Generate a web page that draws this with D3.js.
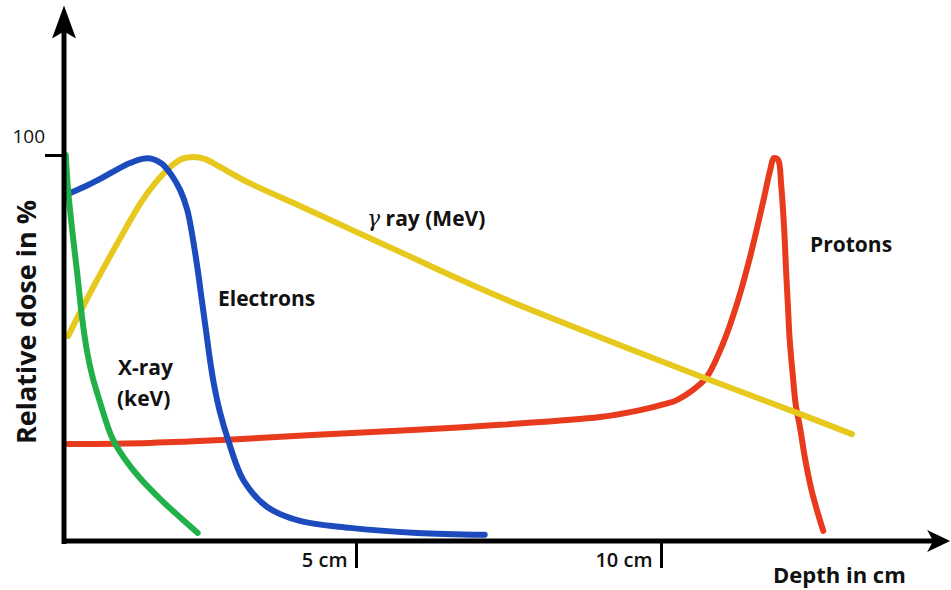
<!DOCTYPE html>
<html>
<head>
<meta charset="utf-8">
<script src="https://cdn.jsdelivr.net/npm/d3@7"></script>
<style>
  html, body { margin: 0; padding: 0; background: #ffffff; }
  svg { display: block; }
  text { font-family: "Open Sans", "DejaVu Sans", sans-serif; fill: #111; }
</style>
</head>
<body>
<svg id="chart" width="951" height="590"></svg>
<script>
// ---- data (depth in cm, relative dose in %) ----
const xrayDepth = [0.03, 0.07, 0.14, 0.22, 0.31, 0.39, 0.48, 0.62, 0.82, 1.03, 1.30, 1.68, 2.29];
const xrayDose  = [100, 90.9, 80.6, 70.2, 57.8, 49.5, 43.0, 35.8, 26.9, 21.5, 16.3, 10.4, 2.1];

const electronDepth = [0.07, 0.34, 0.62, 0.89, 1.13, 1.34, 1.51, 1.68, 1.85, 1.99, 2.11, 2.21, 2.29, 2.36, 2.43, 2.50, 2.57, 2.67, 2.81, 3.07, 3.48, 4.04, 4.90, 6.00, 7.11];
const electronDose  = [89.9, 91.7, 93.8, 96.1, 97.9, 99.0, 99.0, 97.7, 94.6, 90.9, 85.8, 78.0, 70.2, 62.4, 54.7, 46.9, 40.4, 33.4, 26.2, 15.8, 8.8, 5.2, 3.4, 2.1, 1.6];

const gammaDepth = [0.07, 0.27, 0.53, 0.79, 1.05, 1.30, 1.56, 1.82, 2.02, 2.21, 2.41, 2.67, 3.18, 4.04, 4.90, 5.72, 6.54, 7.36, 9.00, 10.64, 12.23, 13.13];
const gammaDose  = [53.1, 59.1, 66.6, 73.8, 80.8, 87.3, 92.7, 96.9, 99.0, 99.5, 99.0, 96.9, 92.7, 86.8, 80.8, 74.9, 68.9, 63.2, 52.8, 42.7, 33.2, 27.7];

const protonDepth = [0.07, 1.47, 2.79, 4.33, 6.00, 7.36, 9.00, 9.66, 10.07, 10.26, 10.52, 10.75, 11.02, 11.25, 11.46, 11.67, 11.79, 11.85, 11.92, 11.97, 12.02, 12.05, 12.08, 12.11, 12.16, 12.21, 12.28, 12.36, 12.46, 12.56, 12.66];
const protonDose  = [25.1, 25.4, 26.2, 27.5, 28.8, 30.1, 32.1, 33.9, 35.5, 36.5, 39.1, 42.5, 51.3, 61.7, 73.6, 87.6, 96.1, 99.2, 98.7, 92.2, 80.6, 70.2, 61.1, 52.1, 43.0, 35.2, 29.3, 21.5, 13.7, 7.8, 2.6];

const xTickValues = [5, 10];
const xTickLabels = ["5 cm", "10 cm"];
const yTickValues = [100];
const yTickLabels = ["100"];

// ---- drawing ----
const svg = d3.select("#chart");
svg.append("rect").attr("width", 951).attr("height", 590).attr("fill", "#fff");

const x = d3.scaleLinear().domain([0, 5, 10]).range([64, 356, 661]);
const y = d3.scaleLinear().domain([0, 100]).range([541, 155]);

const xAxisEnd = 14.74;   // cm, arrow tip
const yAxisEnd = 138.7;   // %, arrow tip

const colors = { "X-ray": "#22b04a", "Electrons": "#1c4bbd", "gamma": "#e6c91c", "Protons": "#e83a1c" };

const line = d3.line()
  .x(d => x(d[0])).y(d => y(d[1]))
  .curve(d3.curveCatmullRom.alpha(0.5));

const zip = (a, b) => a.map((v, i) => [v, b[i]]);
const series = [
  { name: "X-ray", pts: zip(xrayDepth, xrayDose) },
  { name: "Electrons", pts: zip(electronDepth, electronDose) },
  { name: "gamma", pts: zip(gammaDepth, gammaDose) },
  { name: "Protons", pts: zip(protonDepth, protonDose) }
];

const order = ["Protons", "gamma", "Electrons", "X-ray"];
svg.append("g").selectAll("path")
  .data(order.map(n => series.find(s => s.name === n)))
  .join("path")
  .attr("d", d => line(d.pts))
  .attr("fill", "none")
  .attr("stroke", d => colors[d.name])
  .attr("stroke-width", 6)
  .attr("stroke-linecap", "round")
  .attr("stroke-linejoin", "round");

// axes lines
const x0 = x(0), y0 = y(0);
const xTip = x(xAxisEnd), yTip = y(yAxisEnd);
svg.append("line").attr("x1", x0 - 2).attr("x2", xTip - 10).attr("y1", y0).attr("y2", y0)
  .attr("stroke", "#000").attr("stroke-width", 5);
svg.append("line").attr("x1", x0).attr("x2", x0).attr("y1", y0 + 3).attr("y2", yTip + 14)
  .attr("stroke", "#000").attr("stroke-width", 5);
// arrowheads
svg.append("path")
  .attr("d", `M${xTip},${y0} L${xTip - 23},${y0 - 11} L${xTip - 17},${y0} L${xTip - 23},${y0 + 11} Z`)
  .attr("fill", "#000");
svg.append("path")
  .attr("d", `M${x0},${yTip} L${x0 - 12},${yTip + 33} L${x0},${yTip + 26} L${x0 + 12},${yTip + 33} Z`)
  .attr("fill", "#000");

// x axis ticks
const xAxis = d3.axisBottom(x).tickValues(xTickValues).tickSize(27)
  .tickFormat((d, i) => xTickLabels[i]);
const gx = svg.append("g").attr("transform", `translate(0,${y0})`).call(xAxis);
gx.select(".domain").remove();
gx.selectAll(".tick line").attr("stroke", "#000").attr("stroke-width", 3);
gx.selectAll(".tick text")
  .attr("text-anchor", "end").attr("x", -9).attr("y", 26).attr("dy", null)
  .style("font-family", "'Open Sans', sans-serif")
  .style("font-size", "20px").style("font-weight", 600).attr("fill", "#111");

// y axis ticks
const yAxis = d3.axisLeft(y).tickValues(yTickValues).tickSize(19)
  .tickFormat((d, i) => yTickLabels[i]);
const gy = svg.append("g").attr("transform", `translate(${x0},0)`).call(yAxis);
gy.select(".domain").remove();
gy.selectAll(".tick line").attr("stroke", "#000").attr("stroke-width", 3);
gy.selectAll(".tick text")
  .attr("text-anchor", "end").attr("x", -19).attr("y", -13).attr("dy", null)
  .style("font-family", "'Open Sans', sans-serif")
  .style("font-size", "19px").style("font-weight", 400).attr("fill", "#111");

// axis titles
svg.append("text").attr("x", 773).attr("y", 583)
  .style("font-size", "22px").style("font-weight", 700).text("Depth in cm");
svg.append("text").attr("transform", "translate(36,322) rotate(-90)")
  .attr("text-anchor", "middle")
  .style("font-size", "27px").style("font-weight", 700).text("Relative dose in %");

// series labels
const lab = svg.append("g").style("font-size", "21px").style("font-weight", 700);
lab.append("text").attr("x", 118).attr("y", 375).text("X-ray");
lab.append("text").attr("x", 117).attr("y", 406).text("(keV)");
lab.append("text").attr("x", 218).attr("y", 306).text("Electrons");
lab.append("text").attr("x", 810).attr("y", 252).text("Protons");
const g = lab.append("text").attr("x", 367).attr("y", 226);
g.append("tspan").style("font-family", "'DejaVu Serif', serif").style("font-style", "italic")
  .style("font-weight", 400).style("font-size", "22px").text("γ");
g.append("tspan").text(" ray (MeV)");
</script>
</body>
</html>
